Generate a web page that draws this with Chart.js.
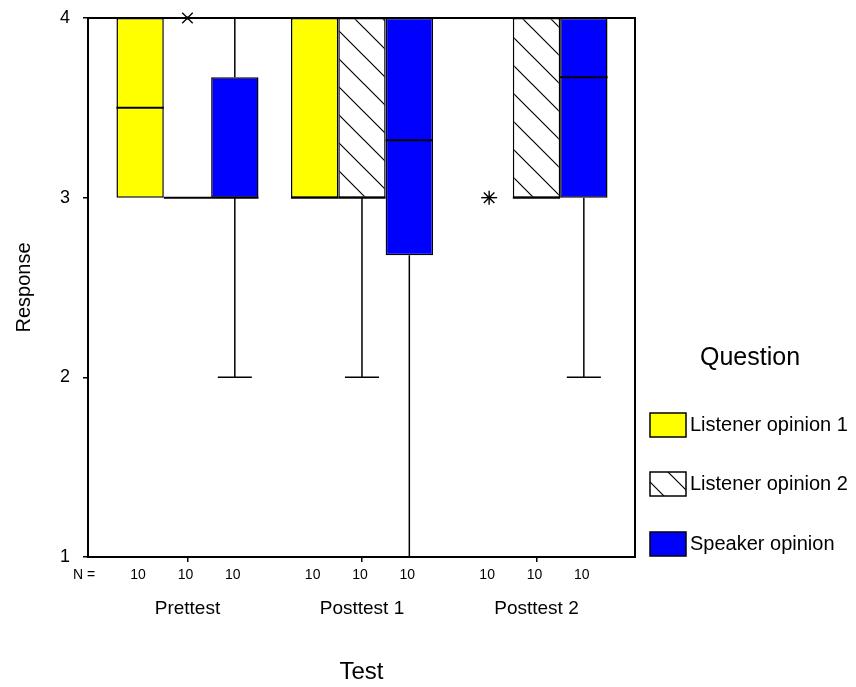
<!DOCTYPE html>
<html>
<head>
<meta charset="utf-8">
<script src="https://cdn.jsdelivr.net/npm/chart.js@4.4.0/dist/chart.umd.min.js"></script>
<style>
  html, body { margin: 0; padding: 0; background: #fff; }
  #wrap { width: 856px; height: 687px; }
</style>
</head>
<body>
<div id="wrap"><canvas id="chart" width="856" height="687"></canvas></div>
<script>
const categories = ["Prettest", "Posttest 1", "Posttest 2"];
const questions = ["Listener opinion 1", "Listener opinion 2", "Speaker opinion"];

// one row per question, one value per test
const boxLow = [[3, 3, 4], [3, 3, 3], [3, 2.68, 3]];
const boxHigh = [[4, 4, 4], [3, 4, 4], [3.67, 4, 4]];
const medians = [[3.5, 3, 4], [3, 3, 3], [3, 3.32, 3.67]];
const whiskerLow = [[3, 3, 4], [3, 2, 3], [2, 1, 2]];
const whiskerHigh = [[4, 4, 4], [3, 4, 4], [4, 4, 4]];
const counts = [[10, 10, 10], [10, 10, 10], [10, 10, 10]];

// outliers (test index, question index, value, marker)
const outlierTest = [0, 2];
const outlierQuestion = [1, 0];
const outlierValue = [4, 3];
const outlierMark = ["cross", "star"];

const FONT = "'Liberation Sans', Arial, sans-serif";

function makeHatch(ctx) {
  const size = 28;
  const c = document.createElement("canvas");
  c.width = size;
  c.height = size;
  const g = c.getContext("2d");
  g.fillStyle = "#fff";
  g.fillRect(0, 0, size, size);
  g.strokeStyle = "#000";
  g.lineWidth = 1.2;
  g.beginPath();
  g.moveTo(-2, -2);
  g.lineTo(size + 2, size + 2);
  g.moveTo(-2, size - 2);
  g.lineTo(2, size + 2);
  g.moveTo(size - 2, -2);
  g.lineTo(size + 2, 2);
  g.stroke();
  return ctx.createPattern(c, "repeat");
}

const canvas = document.getElementById("chart");
const ctx = canvas.getContext("2d");
const fills = ["#ffff00", makeHatch(ctx), "#0000ff"];

const datasets = questions.map((q, qi) => ({
  label: q,
  data: categories.map((c, ci) => ({ x: ci + 1, y: [boxLow[qi][ci], boxHigh[qi][ci]] })),
  backgroundColor: fills[qi],
  borderColor: "#000",
  borderWidth: 1.5,
  borderSkipped: false,
  categoryPercentage: 0.814,
  barPercentage: 1,
}));

function seg(c, x1, y1, x2, y2) {
  c.beginPath();
  c.moveTo(x1, y1);
  c.lineTo(x2, y2);
  c.stroke();
}

const boxParts = {
  id: "boxParts",
  afterDatasetsDraw(chart) {
    const c = chart.ctx;
    const y = chart.scales.y;
    const area = chart.chartArea;
    c.save();
    c.strokeStyle = "#000";
    c.fillStyle = "#000";

    questions.forEach((q, qi) => {
      const meta = chart.getDatasetMeta(qi);
      meta.data.forEach((bar, ci) => {
        const half = bar.width / 2;
        const cap = bar.width * 0.36;
        const x = bar.x;
        const yTop = y.getPixelForValue(boxHigh[qi][ci]);
        const yBot = y.getPixelForValue(boxLow[qi][ci]);
        const yHi = y.getPixelForValue(whiskerHigh[qi][ci]);
        const yLo = y.getPixelForValue(whiskerLow[qi][ci]);

        c.lineWidth = 1.5;
        if (yHi < yTop) {
          seg(c, x, yTop, x, yHi);
          seg(c, x - cap, yHi, x + cap, yHi);
        }
        if (yLo > yBot) {
          seg(c, x, yBot, x, yLo);
          seg(c, x - cap, yLo, x + cap, yLo);
        }
        c.lineWidth = 2;
        const ym = y.getPixelForValue(medians[qi][ci]);
        seg(c, x - half, ym, x + half, ym);

        // N row
        c.font = "14px " + FONT;
        c.textAlign = "center";
        c.textBaseline = "middle";
        c.fillText(String(counts[ci][qi]), x - 2, 575);
      });
    });

    // outliers
    outlierValue.forEach((v, i) => {
      const bar = chart.getDatasetMeta(outlierQuestion[i]).data[outlierTest[i]];
      const x = bar.x;
      const yp = y.getPixelForValue(v);
      const r = 7;
      c.lineWidth = 1.4;
      const d = r * 0.75;
      seg(c, x - d, yp - d, x + d, yp + d);
      seg(c, x - d, yp + d, x + d, yp - d);
      if (outlierMark[i] === "star") {
        seg(c, x - r - 1, yp, x + r + 1, yp);
        seg(c, x, yp - r, x, yp + r);
      }
      c.fillRect(x - 1.5, yp - 1.5, 3, 3);
    });

    // frame
    c.lineWidth = 2;
    c.strokeRect(area.left, area.top, area.right - area.left, area.bottom - area.top);

    c.font = "14px " + FONT;
    c.textAlign = "center";
    c.textBaseline = "middle";
    c.fillText("N =", 84, 575);
    c.restore();
  },
  afterDraw(chart) {
    const c = chart.ctx;
    c.save();
    c.fillStyle = "#000";
    c.textAlign = "center";
    c.textBaseline = "middle";
    c.font = "25px " + FONT;
    c.fillText("Question", 750, 358);

    const rows = [425, 484, 544];
    c.font = "20px " + FONT;
    c.textAlign = "left";
    questions.forEach((q, qi) => {
      c.fillStyle = fills[qi];
      c.fillRect(650, rows[qi] - 12, 36, 24);
      c.strokeStyle = "#000";
      c.lineWidth = 1.5;
      c.strokeRect(650, rows[qi] - 12, 36, 24);
      c.fillStyle = "#000";
      c.fillText(q, 690, rows[qi]);
    });
    c.restore();
  },
};

new Chart(ctx, {
  type: "bar",
  data: { datasets: datasets },
  options: {
    responsive: false,
    animation: false,
    devicePixelRatio: 1,
    layout: { padding: { top: 18, right: 221, left: 0, bottom: 0 } },
    plugins: { legend: { display: false }, tooltip: { enabled: false } },
    scales: {
      x: {
        type: "linear",
        min: 0.43,
        max: 3.5645,
        offset: false,
        afterBuildTicks: (s) => {
          s.ticks = categories.map((c, i) => ({ value: i + 1 }));
        },
        afterFit: (s) => {
          s.height = 130;
          s.paddingLeft = 0;
          s.paddingRight = 0;
        },
        grid: { offset: false, drawOnChartArea: false, drawTicks: true, tickLength: 5, color: "#000", lineWidth: 1.5 },
        border: { display: false },
        ticks: {
          callback: (v, i) => categories[i],
          padding: 35,
          color: "#000",
          maxRotation: 0,
          autoSkip: false,
          font: { family: FONT, size: 19 },
        },
        title: { display: true, text: "Test", color: "#000", padding: 0, font: { family: FONT, size: 24 } },
      },
      y: {
        min: 1,
        max: 4,
        afterFit: (s) => {
          s.width = 88;
          s.paddingTop = 0;
          s.paddingBottom = 0;
        },
        grid: { drawOnChartArea: false, drawTicks: true, tickLength: 5, color: "#000", lineWidth: 1.5 },
        border: { display: false },
        ticks: { stepSize: 1, padding: 13, color: "#000", font: { family: FONT, size: 18 } },
        title: { display: true, text: "Response", color: "#000", padding: { top: 12 }, font: { family: FONT, size: 20 } },
      },
    },
  },
  plugins: [boxParts],
});
</script>
</body>
</html>
